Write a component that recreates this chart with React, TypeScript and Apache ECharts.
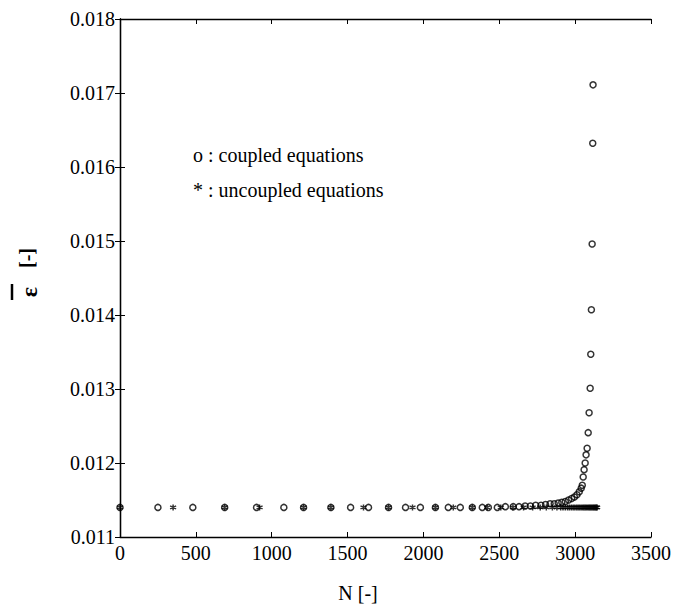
import React, { useEffect, useRef } from "react";
import * as echarts from "echarts";

const xTicks = [0, 500, 1000, 1500, 2000, 2500, 3000, 3500];
const yTicks = [0.011, 0.012, 0.013, 0.014, 0.015, 0.016, 0.017, 0.018];

const coupledN = [
  0, 250, 480, 690, 900, 1080, 1210, 1390, 1520, 1638, 1770, 1882, 1980, 2079,
  2164, 2243, 2322, 2388, 2428, 2487, 2540, 2592, 2630, 2670, 2705, 2740, 2775,
  2805, 2835, 2862, 2888, 2912, 2935, 2957, 2977, 2995, 3012, 3027, 3040, 3047,
  3053, 3059, 3066, 3072, 3079, 3086, 3092, 3099, 3103, 3107, 3112, 3116, 3118,
];
const coupledEps = [
  0.0114, 0.0114, 0.0114, 0.0114, 0.0114, 0.0114, 0.0114, 0.0114, 0.0114,
  0.0114, 0.0114, 0.0114, 0.0114, 0.0114, 0.0114, 0.0114, 0.0114, 0.0114,
  0.0114, 0.0114, 0.01141, 0.01141, 0.01141, 0.01142, 0.01142, 0.01143,
  0.01143, 0.01144, 0.01145, 0.01145, 0.01146, 0.01147, 0.01148, 0.0115,
  0.01152, 0.01154, 0.01157, 0.01161, 0.01166, 0.0117, 0.01181, 0.01191,
  0.012, 0.01211, 0.0122, 0.01241, 0.01268, 0.01301, 0.01347, 0.01407,
  0.01496, 0.01632, 0.01711,
];

const uncoupledN = [
  0, 350, 690, 920, 1210, 1390, 1605, 1770, 1928, 2079, 2197, 2322, 2420, 2510,
  2590, 2660, 2720, 2770, 2810, 2850, 2880, 2905, 2920, 2935, 2950, 2962, 2975,
  2987, 2998, 3010, 3020, 3030, 3040, 3050, 3058, 3066, 3074, 3082, 3090, 3097,
  3104, 3111, 3118, 3124, 3130, 3136, 3141, 3145,
];
const uncoupledEpsValue = 0.0114;

const xName = "N [-]";
const yNameSymbol = "\u03b5";
const yNameUnit = "[-]";
const legendCoupled = "o : coupled equations";
const legendUncoupled = "* : uncoupled equations";

const FONT = "'Times New Roman', 'Liberation Serif', 'DejaVu Serif', serif";
const asterisk =
  "path://M0,-5L0,5M-4.33,-2.5L4.33,2.5M-4.33,2.5L4.33,-2.5";

export default function App() {
  const ref = useRef<HTMLDivElement>(null);
  useEffect(() => {
    if (!ref.current) return;
    const chart = echarts.init(ref.current, null, { renderer: "svg" });
    const axisLine = { show: true, lineStyle: { color: "#000", width: 1.3 } };
    const tick = { show: true, inside: true, length: 5, lineStyle: { color: "#000", width: 1 } };
    const label = { color: "#000", fontFamily: FONT, fontSize: 20 };
    chart.setOption({
      animation: false,
      backgroundColor: "#fff",
      textStyle: { fontFamily: FONT },
      grid: { left: 120, right: 24, top: 19, bottom: 72, containLabel: false },
      xAxis: [
        {
          type: "value",
          min: xTicks[0],
          max: xTicks[xTicks.length - 1],
          interval: 500,
          position: "bottom",
          axisLine,
          axisTick: tick,
          axisLabel: { ...label, margin: 6, formatter: (v: number) => String(v) },
          splitLine: { show: false },
        },
        {
          type: "value",
          min: xTicks[0],
          max: xTicks[xTicks.length - 1],
          interval: 500,
          position: "top",
          axisLine,
          axisTick: tick,
          axisLabel: { show: false },
          splitLine: { show: false },
        },
      ],
      yAxis: [
        {
          type: "value",
          min: yTicks[0],
          max: yTicks[yTicks.length - 1],
          interval: 0.001,
          position: "left",
          axisLine,
          axisTick: tick,
          axisLabel: { ...label, margin: 5, formatter: (v: number) => v.toFixed(3) },
          splitLine: { show: false },
        },
        {
          type: "value",
          min: yTicks[0],
          max: yTicks[yTicks.length - 1],
          interval: 0.001,
          position: "right",
          axisLine,
          axisTick: tick,
          axisLabel: { show: false },
          splitLine: { show: false },
        },
      ],
      series: [
        {
          type: "scatter",
          name: "uncoupled",
          xAxisIndex: 0,
          yAxisIndex: 0,
          symbol: asterisk,
          symbolSize: 6,
          itemStyle: { color: "none", borderColor: "#000", borderWidth: 1.5 },
          data: uncoupledN.map((n) => [n, uncoupledEpsValue]),
        },
        {
          type: "scatter",
          name: "coupled",
          xAxisIndex: 0,
          yAxisIndex: 0,
          symbol: "circle",
          symbolSize: 6,
          itemStyle: { color: "none", borderColor: "#000", borderWidth: 1.5 },
          data: coupledN.map((n, i) => [n, coupledEps[i]]),
        },
      ],
      graphic: [
        {
          type: "text",
          x: 193,
          y: 155,
          style: { text: legendCoupled, fill: "#000", font: `20px ${FONT}`, verticalAlign: "middle" },
        },
        {
          type: "text",
          x: 193,
          y: 190,
          style: { text: legendUncoupled, fill: "#000", font: `20px ${FONT}`, verticalAlign: "middle" },
        },
        {
          type: "text",
          x: 358,
          y: 593,
          style: {
            text: xName,
            fill: "#000",
            font: `20px ${FONT}`,
            align: "center",
            verticalAlign: "middle",
          },
        },
        {
          type: "text",
          x: 29,
          y: 292,
          rotation: Math.PI / 2,
          style: {
            text: yNameSymbol,
            fill: "#000",
            font: `bold 24px ${FONT}`,
            align: "center",
            verticalAlign: "middle",
          },
        },
        {
          type: "line",
          shape: { x1: 12, y1: 284, x2: 12, y2: 300 },
          style: { stroke: "#000", lineWidth: 2.5 },
        },
        {
          type: "text",
          x: 27,
          y: 258,
          rotation: Math.PI / 2,
          style: {
            text: yNameUnit,
            fill: "#000",
            font: `bold 20px ${FONT}`,
            align: "center",
            verticalAlign: "middle",
          },
        },
      ],
    });
    return () => chart.dispose();
  }, []);
  return (
    <div
      ref={ref}
      style={{ position: "fixed", left: 0, top: 0, width: 675, height: 609 }}
    />
  );
}
